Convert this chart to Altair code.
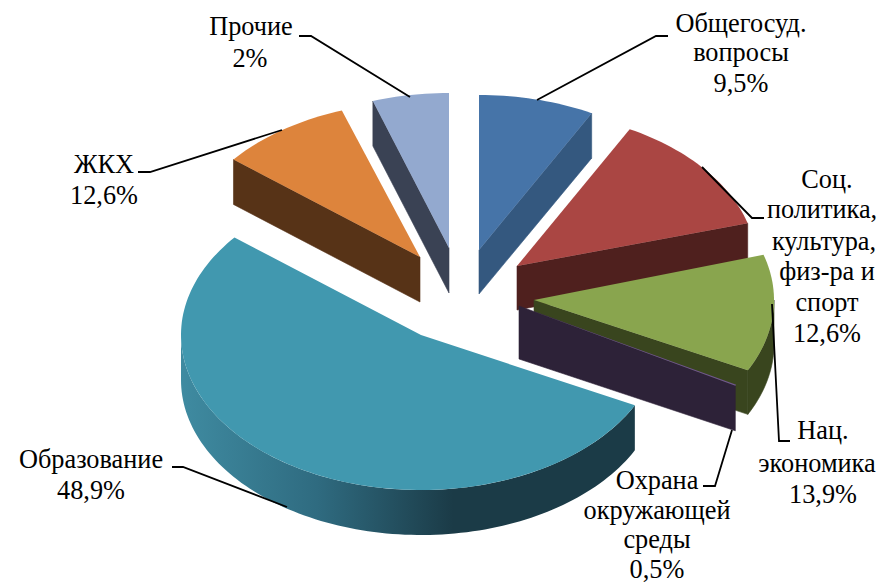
import math
import altair as alt
import pandas as pd

# Slices (back to front)
names = ["Прочие", "Общегосуд.", "ЖКХ", "Соц.", "Нац.", "Охрана", "Образование"]
apex_x = [449, 479, 420, 517, 534, 519, 421]
apex_y = [248, 250, 257, 266, 300, 306, 335]
start_deg = [341.5, 0, 309, 28, 73, 117.6, 117]
end_deg = [360, 28, 341, 74, 117, 118, 309]
top_colors = ["#93a9cf", "#4674a8", "#dd843c", "#aa4643", "#89a54e", "#71588f", "#4198af"]
wall_colors = ["#3a4254", "#34587f", "#573317", "#4f201e", "#39451e", "#2d2238", "#1b3b47"]
cut_side = ["start", "end", "start", "end", "end", "end", None]
rim_deg = [None, None, None, None, (90, 117), None, (117, 270)]
apex_depth = [45, 44, 45, 44, 44, 53, 45]
rim_depth = [45, 45, 45, 44, 44, 45, 45]
radius_x = [240, 240, 240, 240, 240, 245, 240]
radius_y = [155, 155, 155, 155, 155, 170, 155]

# Leader lines
leader_x = [[299, 311, 410], [668, 656, 537], [138, 150, 282], [702, 752, 764],
            [772, 779, 790], [732, 715, 703], [172, 183, 287]]
leader_y = [[36, 36, 97], [36, 36, 100], [172, 172, 130], [167, 218, 218],
            [304, 441, 441], [430, 486, 486], [467, 467, 507]]

# Label lines
label_text = ["Прочие", "2%", "Общегосуд.", "вопросы", "9,5%",
              "Соц.", "политика,", "культура,", "физ-ра и", "спорт", "12,6%",
              "Нац.", "экономика", "13,9%",
              "Охрана", "окружающей", "среды", "0,5%",
              "Образование", "48,9%", "ЖКХ", "12,6%"]
label_x = [251, 250, 741, 741, 741,
           827, 822, 824, 827, 827, 827,
           823, 817, 823,
           657, 657, 657, 657,
           91, 91, 104, 104]
label_y = [27, 59, 24, 53, 84,
           180, 210, 242, 272, 303, 334,
           431, 464, 495,
           481, 511, 540, 570,
           460, 491, 165, 196]

X = alt.X("x:Q", scale=alt.Scale(domain=[8, 877]), axis=None)
Y = alt.Y("y:Q", scale=alt.Scale(domain=[584, 8]), axis=None)


def pt(i, deg):
    t = math.radians(deg)
    return (apex_x[i] + radius_x[i] * math.sin(t), apex_y[i] - radius_y[i] * math.cos(t))


def arc(i, a, b, dz=0.0):
    n = max(2, int(abs(b - a) / 1.5) + 1)
    out = []
    for k in range(n + 1):
        px, py = pt(i, a + (b - a) * k / n)
        out.append((px, py + dz))
    return out


def poly(points, fill, stroke=None):
    df = pd.DataFrame({"x": [p[0] for p in points], "y": [p[1] for p in points],
                       "i": list(range(len(points)))})
    mk = alt.Chart(df).mark_line(fill=fill, stroke=stroke or "transparent",
                                 strokeWidth=0.6 if stroke else 0, interpolate="linear-closed")
    return mk.encode(x=X, y=Y, order=alt.Order("i:Q"))


layers = []
edu_gradient = alt.Gradient(gradient="linear", x1=0, y1=0, x2=1, y2=0, stops=[
    alt.GradientStop(offset=0, color="#3f8ba1"),
    alt.GradientStop(offset=0.3, color="#2f6b80"),
    alt.GradientStop(offset=0.6, color="#1b3b47"),
    alt.GradientStop(offset=1, color="#1b3b47"),
])
for i in range(len(names)):
    a = (apex_x[i], apex_y[i])
    if cut_side[i]:
        e = pt(i, start_deg[i] if cut_side[i] == "start" else end_deg[i])
        layers.append(poly([a, e, (e[0], e[1] + rim_depth[i]), (a[0], a[1] + apex_depth[i])],
                           wall_colors[i], wall_colors[i]))
    if rim_deg[i]:
        r0, r1 = rim_deg[i]
        outline = arc(i, r0, r1) + arc(i, r1, r0, rim_depth[i])
        if names[i] == "Образование":
            layers.append(poly(outline, edu_gradient))
        else:
            layers.append(poly(outline, wall_colors[i], wall_colors[i]))
    layers.append(poly([a] + arc(i, start_deg[i], end_deg[i]), top_colors[i]))

for lx, ly in zip(leader_x, leader_y):
    df = pd.DataFrame({"x": lx, "y": ly, "i": range(len(lx))})
    layers.append(alt.Chart(df).mark_line(color="black", strokeWidth=1.8).encode(
        x=X, y=Y, order=alt.Order("i:Q")))

labels = pd.DataFrame({"x": label_x, "y": label_y, "t": label_text})
layers.append(alt.Chart(labels).mark_text(font="Liberation Serif", fontSize=26.3, color="black",
                                          align="center", baseline="middle").encode(
    x=X, y=Y, text="t:N"))

chart = alt.layer(*layers).properties(width=869, height=576, padding=0,
                                      autosize=alt.AutoSizeParams(type="none")
                                      ).configure_view(stroke=None)
chart.save("out.html", embed_options={"renderer": "svg", "actions": False})
